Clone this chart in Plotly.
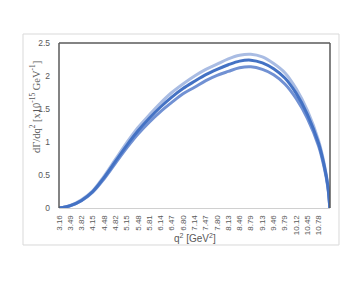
import plotly.graph_objects as go

q2 = [3.16, 3.49, 3.82, 4.15, 4.48, 4.82, 5.15, 5.48, 5.81, 6.14, 6.47, 6.80,
      7.14, 7.47, 7.80, 8.13, 8.46, 8.79, 9.13, 9.46, 9.79, 10.12, 10.45, 10.78,
      10.95, 11.05, 11.11]
upper = [0.0, 0.04, 0.125, 0.26, 0.48, 0.74, 0.99, 1.22, 1.41, 1.59, 1.75, 1.88,
         2.00, 2.10, 2.18, 2.26, 2.315, 2.33, 2.29, 2.19, 2.05, 1.81, 1.48, 1.02,
         0.66, 0.35, 0.0]
central = [0.0, 0.035, 0.115, 0.25, 0.46, 0.71, 0.95, 1.17, 1.36, 1.53, 1.68, 1.81,
           1.92, 2.02, 2.10, 2.17, 2.225, 2.24, 2.20, 2.11, 1.97, 1.74, 1.42, 0.98,
           0.63, 0.34, 0.0]
lower = [0.0, 0.033, 0.11, 0.24, 0.44, 0.68, 0.91, 1.12, 1.30, 1.46, 1.60, 1.73,
         1.83, 1.93, 2.01, 2.07, 2.125, 2.14, 2.10, 2.02, 1.88, 1.66, 1.36, 0.94,
         0.60, 0.32, 0.0]
tick_labels = ["3.16", "3.49", "3.82", "4.15", "4.48", "4.82", "5.15", "5.48", "5.81",
               "6.14", "6.47", "6.80", "7.14", "7.47", "7.80", "8.13", "8.46", "8.79",
               "9.13", "9.46", "9.79", "10.12", "10.45", "10.78"]

fig = go.Figure()
fig.add_trace(go.Scatter(x=q2, y=upper, mode="lines", line=dict(color="#A9BCE3", width=3, shape="spline", smoothing=1), name="upper"))
fig.add_trace(go.Scatter(x=q2, y=lower, mode="lines", line=dict(color="#7191D3", width=3, shape="spline", smoothing=1), name="lower"))
fig.add_trace(go.Scatter(x=q2, y=central, mode="lines", line=dict(color="#4472C4", width=3, shape="spline", smoothing=1), name="central"))

tickfont = dict(family="Liberation Sans", size=8, color="#595959")
fig.update_layout(
    width=355, height=273,
    margin=dict(l=51, r=33, t=35, b=73, autoexpand=False),
    paper_bgcolor="white", plot_bgcolor="white",
    showlegend=False,
    xaxis=dict(range=[3.16, 11.115], tickvals=[float(t) for t in tick_labels], ticktext=tick_labels,
               tickangle=-90, tickfont=tickfont, showgrid=False, zeroline=False,
               showline=True, linecolor="#D0D0D0", linewidth=1, ticks="", ticklabelstandoff=3),
    yaxis=dict(range=[0, 2.5], dtick=0.5, tickfont=dict(family="Liberation Sans", size=8.5, color="#595959"),
               showgrid=False, zeroline=False, showline=False, ticks="", ticklabelstandoff=8),
)

frame = "#5A5A5A"
fig.add_shape(type="line", xref="paper", yref="paper", x0=0, x1=0, y0=0, y1=1, line=dict(color=frame, width=1.5))
fig.add_shape(type="line", xref="paper", yref="paper", x0=0, x1=1, y0=1, y1=1, line=dict(color=frame, width=1.5))
fig.add_shape(type="line", xref="paper", yref="paper", x0=1, x1=1, y0=0, y1=1, line=dict(color=frame, width=1.5))
# outer chart-area border
fig.add_shape(type="rect", xref="paper", yref="paper", x0=-0.1328, x1=1.0332, y0=-0.2242, y1=1.0545,
              line=dict(color="#D9D9D9", width=1), layer="below")

fig.add_annotation(xref="paper", yref="paper", x=-0.09, y=0.61, xanchor="center", yanchor="middle",
                   showarrow=False, textangle=-90,
                   text="dΓ/dq<sup>2</sup> [x10<sup>-15</sup> GeV<sup>-1</sup>]",
                   font=dict(family="Liberation Serif", size=10.5, color="#595959"))
fig.add_annotation(xref="paper", yref="paper", x=0.502, y=-0.182, xanchor="center", yanchor="middle",
                   showarrow=False,
                   text="q<sup>2</sup> [GeV<sup>2</sup>]",
                   font=dict(family="Liberation Sans", size=10, color="#595959"))

fig.write_html("out.html")
